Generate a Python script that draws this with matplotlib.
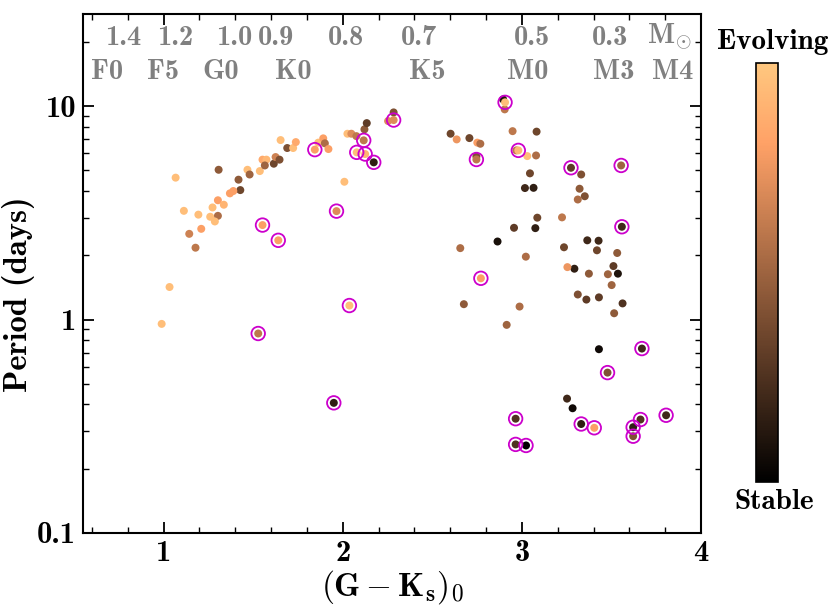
import numpy as np
import matplotlib
matplotlib.use("Agg")
import matplotlib.pyplot as plt
import matplotlib.transforms as mtransforms
from matplotlib.ticker import MultipleLocator, FixedLocator, LogLocator, NullFormatter, FuncFormatter

plt.rcParams['font.family'] = 'serif'
plt.rcParams['font.serif'] = ['cmb10']
plt.rcParams['mathtext.fontset'] = 'cm'
plt.rcParams['axes.formatter.use_mathtext'] = True
plt.rcParams['axes.unicode_minus'] = False

# stars without a flag: colour (G-Ks)0, period (days), evolution index (0 stable, 1 evolving)
color_gk = [1.067, 1.307, 1.468, 1.480, 1.418, 1.428, 1.389, 1.370, 1.303, 1.336,
            1.273, 1.113, 1.194, 1.303, 1.260, 1.286, 1.210, 1.143, 1.178, 1.033,
            0.989, 2.009, 1.537, 1.552, 1.574, 1.565, 1.615, 1.625, 1.647, 1.653,
            1.690, 1.723, 1.738, 1.863, 1.891, 1.900, 1.920, 2.026, 2.048, 2.076,
            2.121, 2.134, 2.284, 2.253,
            2.895, 2.904, 2.602, 2.636, 2.707, 2.751, 2.768, 2.746, 2.948, 3.082,
            2.969, 3.030, 3.079, 3.045, 3.017, 3.065, 3.086, 2.956, 3.075, 2.864,
            2.656, 3.022, 2.676, 2.987, 2.915, 3.331, 3.322, 3.351, 3.312, 3.224,
            3.235, 3.365, 3.428, 3.419, 3.532, 3.511, 3.536, 3.480, 3.374, 3.293,
            3.254, 3.501, 3.312, 3.360, 3.430, 3.562, 3.515, 3.430, 3.252, 3.283]
period = [4.62, 5.03, 5.03, 4.78, 4.52, 4.04, 4.00, 3.90, 3.62, 3.45,
          3.35, 3.23, 3.10, 3.06, 3.03, 2.88, 2.66, 2.52, 2.17, 1.42,
          0.954, 4.42, 4.96, 5.61, 5.61, 5.27, 5.37, 5.77, 5.61, 6.93,
          6.36, 6.36, 6.78, 6.74, 7.06, 6.69, 6.29, 7.42, 7.42, 7.23,
          7.78, 8.32, 9.34, 8.51,
          10.75, 9.65, 7.42, 6.98, 7.08, 6.74, 6.66, 5.81, 7.63, 7.59,
          6.20, 5.83, 5.87, 4.84, 4.13, 4.14, 3.00, 2.69, 2.68, 2.32,
          2.16, 1.97, 1.18, 1.15, 0.944, 4.78, 4.10, 3.78, 3.65, 3.01,
          2.18, 2.35, 2.34, 2.11, 2.05, 1.78, 1.64, 1.63, 1.64, 1.73,
          1.76, 1.45, 1.31, 1.24, 1.27, 1.19, 1.07, 0.726, 0.426, 0.384]
evolution = [0.95, 0.45, 0.95, 0.50, 0.45, 0.35, 0.80, 0.80, 0.80, 0.90,
             0.95, 0.95, 0.95, 0.55, 0.95, 0.95, 0.80, 0.65, 0.60, 0.95,
             0.95, 0.95, 0.95, 0.85, 0.92, 0.50, 0.35, 0.65, 0.40, 0.95,
             0.40, 0.95, 0.85, 0.95, 0.80, 0.55, 0.80, 0.95, 0.70, 0.60,
             0.45, 0.30, 0.40, 0.70,
             0.10, 0.60, 0.35, 0.75, 0.35, 0.80, 0.55, 0.40, 0.60, 0.35,
             0.60, 0.95, 0.55, 0.35, 0.20, 0.15, 0.35, 0.30, 0.15, 0.08,
             0.55, 0.55, 0.45, 0.55, 0.50, 0.40, 0.45, 0.40, 0.55, 0.60,
             0.35, 0.20, 0.20, 0.35, 0.45, 0.30, 0.10, 0.50, 0.45, 0.15,
             0.75, 0.50, 0.40, 0.30, 0.30, 0.25, 0.45, 0.05, 0.20, 0.05]

# flagged stars (drawn with a magenta ring)
flag_gk = [1.844, 2.117, 2.078, 2.125, 2.173, 2.284, 1.965, 1.552, 1.640, 2.037,
           1.528, 1.950,
           2.906, 2.746, 2.980, 3.274, 3.554, 3.558, 2.771, 3.670, 3.478, 2.965,
           3.331, 3.404, 3.621, 3.662, 3.621, 3.805, 2.965, 3.023]
flag_period = [6.25, 6.91, 6.07, 5.96, 5.45, 8.60, 3.22, 2.77, 2.35, 1.163,
               0.860, 0.407,
               10.41, 5.62, 6.20, 5.14, 5.27, 2.72, 1.56, 0.731, 0.564, 0.343,
               0.324, 0.311, 0.313, 0.340, 0.284, 0.356, 0.260, 0.257]
flag_evolution = [0.80, 0.60, 0.95, 0.90, 0.15, 0.70, 0.70, 0.80, 0.80, 0.95,
                  0.60, 0.15,
                  0.95, 0.60, 0.92, 0.30, 0.50, 0.20, 0.80, 0.20, 0.40, 0.25,
                  0.15, 0.80, 0.15, 0.25, 0.40, 0.20, 0.25, 0.00]

# top annotations: stellar mass and spectral type at their (G-Ks)0
mass_labels = ['1.4', '1.2', '1.0', '0.9', '0.8', '0.7', '0.5', '0.3', r'M$_{\odot}$']
mass_gk = [0.775, 1.065, 1.392, 1.629, 2.017, 2.428, 3.055, 3.494, 3.824]
spt_labels = ['F0', 'F5', 'G0', 'K0', 'K5', 'M0', 'M3', 'M4']
spt_gk = [0.682, 0.998, 1.316, 1.724, 2.474, 3.032, 3.513, 3.843]

fig = plt.figure(figsize=(8.31, 6.06), dpi=100)
ax = fig.add_axes([0.0999, 0.1205, 0.7437, 0.8564])

sc = ax.scatter(color_gk + flag_gk, period + flag_period, c=evolution + flag_evolution,
                cmap='copper', vmin=0, vmax=1, s=33, edgecolors='none', zorder=2)
ax.scatter(flag_gk, flag_period, s=95, facecolors='none', edgecolors='#cc00cc',
           linewidths=1.3, zorder=3)

ax.set_yscale('log')
ax.set_xlim(0.55, 4.0)
ax.set_ylim(0.1, 27)

ax.xaxis.set_major_locator(FixedLocator([1, 2, 3, 4]))
ax.xaxis.set_minor_locator(MultipleLocator(0.2))
ax.yaxis.set_major_locator(FixedLocator([0.1, 1, 10]))
ax.yaxis.set_minor_locator(LogLocator(base=10, subs=np.arange(2, 10)))
ax.yaxis.set_minor_formatter(NullFormatter())
ax.yaxis.set_major_formatter(FuncFormatter(lambda v, pos: '%g' % v))
ax.xaxis.set_major_formatter(FuncFormatter(lambda v, pos: '%g' % v))

ax.tick_params(which='both', direction='in', top=True, right=True, labelsize=22)
ax.tick_params(which='major', length=8, width=1.3, pad=5)
ax.tick_params(which='minor', length=4, width=1.0)
for sp in ax.spines.values():
    sp.set_linewidth(1.5)

ax.set_xlabel(r'$\mathbf{(G-K_s)_0}$', fontsize=24)
ax.xaxis.set_label_coords(0.5, -0.068)
ax.set_ylabel('Period (days)', fontsize=23.5)
ax.yaxis.set_label_coords(-0.077, 0.46)

trans = mtransforms.blended_transform_factory(ax.transData, ax.transAxes)
for lab, xv in zip(mass_labels, mass_gk):
    ax.text(xv, 0.954, lab, transform=trans, ha='center', va='center',
            color='gray', fontsize=20.5)
for lab, xv in zip(spt_labels, spt_gk):
    ax.text(xv, 0.888, lab, transform=trans, ha='center', va='center',
            color='gray', fontsize=20.5)

cax = fig.add_axes([0.9097, 0.2046, 0.0265, 0.6914])
cb = fig.colorbar(sc, cax=cax)
cb.set_ticks([])
cb.outline.set_linewidth(1.2)
fig.text(773 / 831, 1 - 42 / 606, 'Evolving', ha='center', va='center', fontsize=21)
fig.text(774 / 831, 1 - 502 / 606, 'Stable', ha='center', va='center', fontsize=21)

fig.savefig('out.png', dpi=100)
